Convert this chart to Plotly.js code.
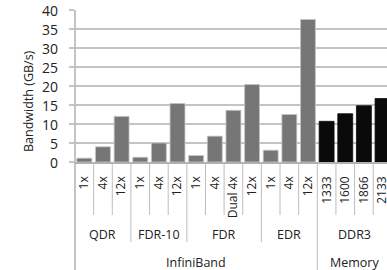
<!DOCTYPE html>
<html>
<head>
<meta charset="utf-8">
<script src="https://cdn.plot.ly/plotly-3.0.1.min.js"></script>
<style>
html,body{margin:0;padding:0;overflow:hidden;background:#fff;}
#chart{width:387px;height:270px;}
</style>
</head>
<body>
<div id="chart"></div>
<script>
// ---- data ----
const speeds = ['1x','4x','12x','1x','4x','12x','1x','4x','Dual 4x','12x','1x','4x','12x','1333','1600','1866','2133'];
const groups = ['QDR','QDR','QDR','FDR-10','FDR-10','FDR-10','FDR','FDR','FDR','FDR','EDR','EDR','EDR','DDR3','DDR3','DDR3','DDR3'];
const families = ['InfiniBand','InfiniBand','InfiniBand','InfiniBand','InfiniBand','InfiniBand','InfiniBand','InfiniBand','InfiniBand','InfiniBand','InfiniBand','InfiniBand','InfiniBand','Memory','Memory','Memory','Memory'];
const bandwidth = [1, 4, 12, 1.25, 5, 15.4, 1.7, 6.8, 13.6, 20.4, 3.1, 12.5, 37.5, 10.7, 12.7, 14.8, 16.7];
const yTicks = [0,5,10,15,20,25,30,35,40];
const yTitle = 'Bandwidth (GB/s)';

// ---- styling ----
const FONT = 'Open Sans, Liberation Sans, sans-serif';
const TXT = '#222';
const SEP = '#bdbdbd';
const familyColor = {InfiniBand: '#767676', Memory: '#0a0a0a'};
const familyLine = {InfiniBand: '#c4c4c4', Memory: '#0a0a0a'};

const idx = speeds.map((_, i) => i);
const plotLeft = 75, plotRight = 387;
const plotTop = 10, plotBottom = 162, plotH = plotBottom - plotTop;
const py = px => -(px - plotBottom) / plotH;   // pixel below axis -> paper
const pxX = px => (px - plotLeft) / (plotRight - plotLeft);
const yLvl1 = py(215), yLvl2 = py(242), yLvl3 = py(270);

// separators between categories
const shapes = [];
for (let k = 1; k < speeds.length; k++) {
  let y1 = yLvl1;
  if (groups[k] !== groups[k-1]) y1 = yLvl2;
  if (families[k] !== families[k-1]) y1 = yLvl3;
  shapes.push({type:'line', xref:'x', yref:'paper', x0:k-0.5, x1:k-0.5, y0:0, y1:y1,
               line:{color:SEP, width:1}});
}
// left axis line extended through label rows
shapes.push({type:'line', xref:'paper', yref:'paper', x0:0, x1:0, y0:1, y1:yLvl3,
             line:{color:'#b0b0b0', width:1.5}});

// group and family labels
const annotations = [];
function spans(arr) {
  const out = [];
  let s = 0;
  for (let i = 1; i <= arr.length; i++) {
    if (i === arr.length || arr[i] !== arr[s]) { out.push({name: arr[s], from: s, to: i-1}); s = i; }
  }
  return out;
}
spans(groups).forEach(g => annotations.push({
  xref:'x', yref:'paper', x:(g.from+g.to)/2, y:py(235), text:g.name, showarrow:false,
  xanchor:'center', yanchor:'middle', font:{family:FONT, size:12.5, color:TXT}
}));
spans(families).forEach(g => annotations.push({
  xref:'x', yref:'paper', x:(g.from+g.to)/2, y:py(262), text:g.name, showarrow:false,
  xanchor:'center', yanchor:'middle', font:{family:FONT, size:12.5, color:TXT}
}));
// y tick labels (placed on the y scale)
yTicks.forEach(v => annotations.push({
  xref:'paper', yref:'y', x:pxX(60), y:v, text:String(v), showarrow:false,
  xanchor:'right', yanchor:'middle', font:{family:FONT, size:14, color:TXT}
}));
// y axis title
annotations.push({
  xref:'paper', yref:'paper', x:pxX(29), y:py(101), text:yTitle, textangle:-90, showarrow:false,
  xanchor:'center', yanchor:'middle', font:{family:FONT, size:12.5, color:TXT}
});

const trace = {
  type:'bar',
  x: idx,
  y: bandwidth,
  marker:{
    color: families.map(f => familyColor[f]),
    line:{color: families.map(f => familyLine[f]), width:0.8}
  },
  hoverinfo:'none'
};

const layout = {
  width:387, height:270,
  margin:{l:plotLeft, r:0, t:plotTop, b:270-plotBottom, pad:0},
  paper_bgcolor:'#fff', plot_bgcolor:'#fff',
  showlegend:false,
  bargap:0.2,
  font:{family:FONT, color:TXT},
  xaxis:{
    range:[-0.5, 16.24],
    tickmode:'array', tickvals:idx, ticktext:speeds,
    tickangle:-90,
    tickfont:{family:FONT, size:12, color:TXT},
    ticklabelstandoff:8,
    ticklabeloverflow:'allow',
    ticks:'', showgrid:false, zeroline:false,
    showline:true, linecolor:'#b0b0b0', linewidth:1.5,
    fixedrange:true
  },
  yaxis:{
    range:[0,40],
    tickmode:'array', tickvals:yTicks,
    showticklabels:false,
    showgrid:true, gridcolor:'#c4c4c4', gridwidth:1.2,
    ticks:'outside', ticklen:5, tickcolor:'#c4c4c4', tickwidth:1.2,
    showline:false, zeroline:false,
    fixedrange:true
  },
  shapes: shapes,
  annotations: annotations
};

Plotly.newPlot('chart', [trace], layout, {displayModeBar:false, staticPlot:true});
</script>
</body>
</html>
